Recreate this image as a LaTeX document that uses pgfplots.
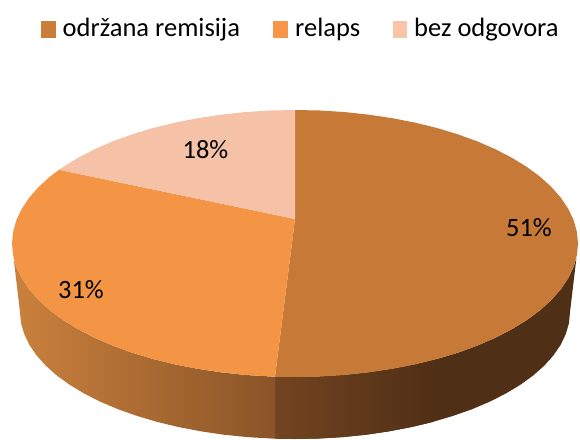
\documentclass[border=0pt]{standalone}
\usepackage{pgfplots}
\pgfplotsset{compat=1.18}
\usepackage{fontspec}
\setmainfont{Carlito}
\definecolor{topA}{HTML}{C77A37}
\definecolor{topB}{HTML}{F39545}
\definecolor{topC}{HTML}{F5C2A7}
\definecolor{legA}{HTML}{CB7D3A}
\definecolor{legB}{HTML}{F79646}
\definecolor{legC}{HTML}{FAC4A8}
\definecolor{wallL}{HTML}{CB813D}
\definecolor{wallLr}{HTML}{8A5428}
\definecolor{wallRl}{HTML}{734420}
\definecolor{wallRr}{HTML}{4F2F16}
\begin{document}
\begin{tikzpicture}
\begin{axis}[x=1pt,y=1pt,xmin=0,xmax=580,ymin=0,ymax=439,y dir=reverse,
  axis lines=none,clip=false,scale only axis]
% right wall, dark
\addplot[fill=wallRr,draw=none] coordinates {
(275,376.7)(295,377)(319.7,376.5)(344.1,375)(368.2,372.4)(391.8,368.9)(414.6,364.5)(436.5,359.1)(457.3,352.9)(476.9,345.8)(495.1,337.9)(511.8,329.3)(526.8,320.1)(540.1,310.3)(551.5,299.9)(560.9,289.2)(568.3,278.1)(573.7,266.7)(576.4,258)
(570,312)(569,323.1)(565.8,334)(560.6,344.9)(553.4,355.4)(544.2,365.7)(533.2,375.5)(520.3,384.8)(505.7,393.6)(489.5,401.8)(471.8,409.3)(452.7,416)(432.5,422)(411.2,427.1)(389.1,431.3)(366.2,434.7)(342.7,437.1)(319,438.5)(295,439)(275,438.7)
} --cycle;
% right wall, gradient part
\addplot[left color=wallRl,right color=wallRr,draw=none] coordinates {
(275,376.7)(295,377)(319.7,376.5)(344.1,375)(368.2,372.4)(391.8,368.9)(414.6,364.5)(436.5,359.1)
(432.5,422)(411.2,427.1)(389.1,431.3)(366.2,434.7)(342.7,437.1)(319,438.5)(295,439)(275,438.7)
} --cycle;
% left wall
\addplot[left color=wallL,right color=wallLr,draw=none] coordinates {
(13.6,258)(16.3,266.7)(21.7,278.1)(29.1,289.2)(38.5,299.9)(49.9,310.3)(63.2,320.1)(78.2,329.3)(94.9,337.9)(113.1,345.8)(132.7,352.9)(153.5,359.1)(175.4,364.5)(198.2,368.9)(221.8,372.4)(245.9,375)(275,376.7)
(275,438.7)(271,438.5)(247.3,437.1)(223.8,434.7)(200.9,431.3)(178.8,427.1)(157.5,422)(137.3,416)(118.2,409.3)(100.5,401.8)(84.3,393.6)(69.7,384.8)(56.8,375.5)(45.8,365.7)(36.6,355.4)(29.4,344.9)(24.2,334)(21,323.1)(20,312)
} --cycle;
% slice 51%
\addplot[fill=topA,draw=none] coordinates {
(295,219)(295,110)(319.7,110.5)(344.1,112)(368.2,114.6)(391.8,118.1)(414.6,122.5)(436.5,127.9)(457.3,134.1)(476.9,141.2)(495.1,149.1)(511.8,157.7)(526.8,166.9)(540.1,176.7)(551.5,187.1)(560.9,197.8)(568.3,208.9)(573.7,220.3)(576.9,231.9)(578,243.5)(576.9,255.1)(573.7,266.7)(568.3,278.1)(560.9,289.2)(551.5,299.9)(540.1,310.3)(526.8,320.1)(511.8,329.3)(495.1,337.9)(476.9,345.8)(457.3,352.9)(436.5,359.1)(414.6,364.5)(391.8,368.9)(368.2,372.4)(344.1,375)(319.7,376.5)(295,377)(275,376.7)
} --cycle;
% slice 31%
\addplot[fill=topB,draw=none] coordinates {
(295,219)(275,376.7)(245.9,375)(221.8,372.4)(198.2,368.9)(175.4,364.5)(153.5,359.1)(132.7,352.9)(113.1,345.8)(94.9,337.9)(78.2,329.3)(63.2,320.1)(49.9,310.3)(38.5,299.9)(29.1,289.2)(21.7,278.1)(16.3,266.7)(13.1,255.1)(12,243.5)(13.1,231.9)(16.3,220.3)(21.7,208.9)(29.1,197.8)(38.5,187.1)(49.9,176.7)(59,169.8)
} --cycle;
% slice 18%
\addplot[fill=topC,draw=none] coordinates {
(295,219)(59,169.8)(63.2,166.9)(78.2,157.7)(94.9,149.1)(113.1,141.2)(132.7,134.1)(153.5,127.9)(175.4,122.5)(198.2,118.1)(221.8,114.6)(245.9,112)(270.3,110.5)(295,110)
} --cycle;
% legend swatches
\addplot[fill=legA,draw=none] coordinates {(41.1,21)(55.9,21)(55.9,37.8)(41.1,37.8)} --cycle;
\addplot[fill=legB,draw=none] coordinates {(273.3,21)(288.1,21)(288.1,37.8)(273.3,37.8)} --cycle;
\addplot[fill=legC,draw=none] coordinates {(392.6,21)(407.4,21)(407.4,37.8)(392.6,37.8)} --cycle;
\node[anchor=base west,inner sep=0pt,font=\fontsize{26.5}{28}\selectfont] at (axis cs:62.5,36.5) {održana remisija};
\node[anchor=base west,inner sep=0pt,font=\fontsize{26.5}{28}\selectfont] at (axis cs:295,36.5) {relaps};
\node[anchor=base west,inner sep=0pt,font=\fontsize{26.5}{28}\selectfont] at (axis cs:414,36.5) {bez odgovora};
\node[inner sep=0pt,font=\fontsize{26.4}{28}\selectfont] at (axis cs:529,228) {51\%};
\node[inner sep=0pt,font=\fontsize{26.4}{28}\selectfont] at (axis cs:81,290) {31\%};
\node[inner sep=0pt,font=\fontsize{26.4}{28}\selectfont] at (axis cs:205.5,150) {18\%};
\path (axis cs:0,0) (axis cs:580,439);
\end{axis}
\end{tikzpicture}
\end{document}
